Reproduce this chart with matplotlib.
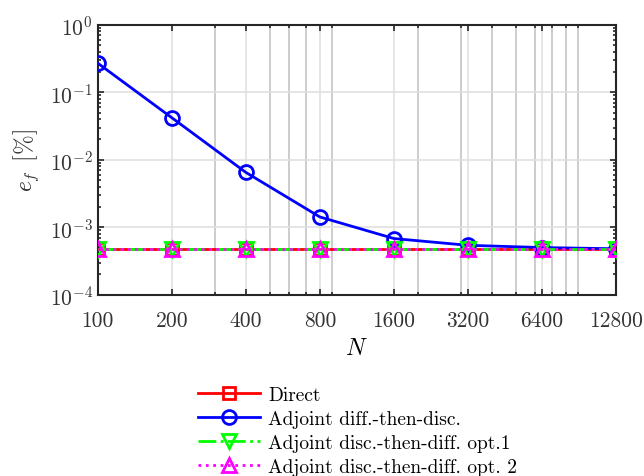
import matplotlib
matplotlib.use('Agg')
import matplotlib.pyplot as plt
from matplotlib.ticker import FixedLocator, LogLocator, NullFormatter

plt.rcParams['font.family'] = ['cmr10', 'DejaVu Serif']
plt.rcParams['mathtext.fontset'] = 'cm'
plt.rcParams['axes.formatter.use_mathtext'] = True

# data
N = [100, 200, 400, 800, 1600, 3200, 6400, 12800]
direct = [4.8e-4, 4.8e-4, 4.8e-4, 4.8e-4, 4.8e-4, 4.8e-4, 4.8e-4, 4.8e-4]
adj_dtd = [0.27, 0.042, 0.0065, 0.00142, 0.00068, 0.00054, 0.00050, 0.00048]
adj_opt1 = [4.8e-4, 4.8e-4, 4.8e-4, 4.8e-4, 4.8e-4, 4.8e-4, 4.8e-4, 4.8e-4]
adj_opt2 = [4.8e-4, 4.8e-4, 4.8e-4, 4.8e-4, 4.8e-4, 4.8e-4, 4.8e-4, 4.8e-4]
xtick_labels = ['100', '200', '400', '800', '1600', '3200', '6400', '12800']
x_minor = [300, 500, 600, 700, 900, 2000, 3000, 4000, 5000, 6000, 7000, 8000, 9000]

fig = plt.figure(figsize=(6.44, 4.77), dpi=100)
ax = fig.add_axes([0.1517, 0.380, 0.805, 0.566])

ax.plot(N, direct, '-', color='red', lw=2, marker='s', ms=9, mfc='none', mew=2,
        label='Direct', zorder=3)
ax.plot(N, adj_dtd, '-', color='blue', lw=2, marker='o', ms=10, mfc='none', mew=2,
        label='Adjoint diff.-then-disc.', zorder=4)
ax.plot(N, adj_opt1, '-.', color='#00ff00', lw=2, marker='v', ms=10, mfc='none', mew=2,
        label='Adjoint disc.-then-diff. opt.1', zorder=5)
ax.plot(N, adj_opt2, ':', color='magenta', lw=2, marker='^', ms=10, mfc='none', mew=2,
        label='Adjoint disc.-then-diff. opt. 2', zorder=6)

ax.set_xscale('log')
ax.set_yscale('log')
ax.set_xlim(100, 12800)
ax.set_ylim(1e-4, 1)

ax.xaxis.set_major_locator(FixedLocator(N))
ax.set_xticklabels(xtick_labels)
ax.xaxis.set_minor_locator(FixedLocator(x_minor))
ax.xaxis.set_minor_formatter(NullFormatter())
ax.yaxis.set_major_locator(LogLocator(base=10, numticks=10))
ax.yaxis.set_minor_locator(LogLocator(base=10, subs=range(2, 10), numticks=10))
ax.yaxis.set_minor_formatter(NullFormatter())

ax.grid(True, which='major', color='#e0e0e0', lw=1.2, zorder=0)
ax.xaxis.grid(True, which='minor', color='#c4c4c4', lw=1.2, zorder=0)
ax.set_axisbelow(True)

ax.tick_params(which='both', direction='in', top=True, right=True, width=1.2,
               colors='#262626', labelsize=15.5, labelcolor='#333333')
ax.tick_params(which='major', length=4)
ax.tick_params(which='minor', length=2.5)
ax.tick_params(axis='x', pad=11)
for s in ax.spines.values():
    s.set_linewidth(1.5)
    s.set_color('#262626')

ax.set_xlabel('$N$', fontsize=17, labelpad=5)
ax.set_ylabel(r'$e_f\ \,[\%]$', fontsize=17, color='#333333', labelpad=6)

fig.legend(loc='upper center', bbox_to_anchor=(0.555, 0.225), frameon=False,
           fontsize=14, handlelength=3.2, labelspacing=0.3, handletextpad=0.4)

fig.savefig('out.png', dpi=100)
